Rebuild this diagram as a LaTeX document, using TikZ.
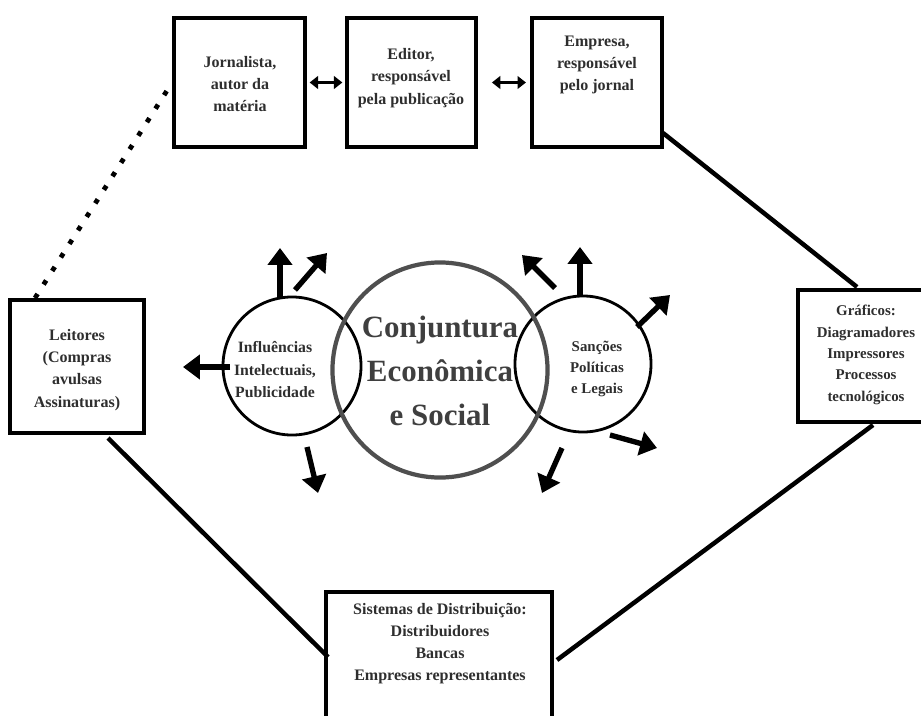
\documentclass[tikz,border=0pt]{standalone}
\usepackage{fontspec}
\setmainfont{Liberation Serif}
\usetikzlibrary{arrows.meta}
\definecolor{textgray}{HTML}{2E2E2E}
\definecolor{ringgray}{HTML}{4F4F4F}

\begin{document}
\begin{tikzpicture}[x=0.025cm,y=-0.025cm,
    box/.style={draw,line width=2.6pt,inner sep=0pt},
    ring/.style={draw,circle,line width=2pt,inner sep=0pt},
    lbl/.style={align=center,text=textgray,inner sep=0pt,font=\bfseries\fontsize{11.4}{15.8}\selectfont},
    small/.style={lbl,font=\bfseries\fontsize{10.6}{15.2}\selectfont},
    link/.style={line width=3.2pt},
    dotline/.style={line width=3.4pt,dash pattern=on 3.4pt off 8pt},
    twoway/.style={line width=2.8pt,{Triangle[length=6pt,width=9pt]}-{Triangle[length=6pt,width=9pt]}},
    bigarrow/.style={line width=3.8pt,-{Triangle[length=12pt,width=17pt]}}]
  \useasboundingbox (0,0) rectangle (921,716);

  \node[box,minimum width=3.275cm,minimum height=3.225cm] (jorn) at (239.5,82.5) {};
  \node[box,minimum width=3.225cm,minimum height=3.225cm] (edit) at (411.5,82.5) {};
  \node[box,minimum width=3.25cm,minimum height=3.225cm] (emp) at (597,82.5) {};
  \node[box,minimum width=3.35cm,minimum height=3.325cm] (leit) at (77,366.5) {};
  \node[box,minimum width=3.25cm,minimum height=3.3cm] (graf) at (863,356) {};
  \node[box,minimum width=5.65cm,minimum height=3.35cm] (sist) at (439,659) {};

  \node[lbl] (jornT) at (240,84) {Jornalista,\\autor da\\matéria};
  \node[lbl] (editT) at (411,78) {Editor,\\responsável\\pela publicação};
  \node[lbl] (empT) at (597,65) {Empresa,\\responsável\\pelo jornal};
  \node[lbl] (leitT) at (77,370) {Leitores\\(Compras\\avulsas\\Assinaturas)};
  \node[small] (grafT) at (866,355) {Gráficos:\\Diagramadores\\Impressores\\Processos\\tecnológicos};
  \node[lbl] (sistT) at (440,643.5) {Sistemas de Distribuição:\\Distribuidores\\Bancas\\Empresas representantes};

  \node[ring,minimum size=3.45cm] (infl) at (292,366) {};
  \node[ring,minimum size=3.4cm] (sanc) at (583,364) {};
  \node[ring,draw=ringgray,line width=3pt,minimum size=5.375cm] (conj) at (440,370) {};

  \node[lbl,font=\bfseries\fontsize{11.2}{16}\selectfont] (inflT) at (275,370) {Influências\\Intelectuais,\\Publicidade};
  \node[small] (sancT) at (597,369) {Sanções\\Políticas\\e Legais};
  \node[lbl,text=ringgray!80!black,font=\bfseries\fontsize{22}{31}\selectfont] (conjT) at (440,371) {Conjuntura\\Econômica\\e Social};

  \coordinate (leitTop) at (35,298);
  \coordinate (empOut) at (663,133);
  \coordinate (grafTop) at (857,287);
  \coordinate (grafBot) at (873,425);
  \coordinate (leitBot) at (108,438);
  \coordinate (sistL) at (328,657);
  \coordinate (sistR) at (557,660);

  \draw[twoway,shorten <=2pt,shorten >=2pt] (jorn) -- (edit);
  \draw[twoway,shorten <=10pt,shorten >=3pt] (edit) -- (emp);
  \draw[dotline,shorten >=6pt] (leitTop) -- (jorn.west);
  \draw[link] (empOut) -- (grafTop);
  \draw[link] (leitBot) -- (sistL);
  \draw[link] (sistR) -- (grafBot);

  \foreach \sx/\sy/\tx/\ty in {280/297/280/248, 295/290/327/253, 230/367/183/367, 307/447/318/493,
      555/288/522/255, 580/295/580/247, 637/327/670/295, 610/435/657/448, 562/448/542/493}
    \draw[bigarrow] (\sx,\sy) -- (\tx,\ty);
\end{tikzpicture}
\end{document}
